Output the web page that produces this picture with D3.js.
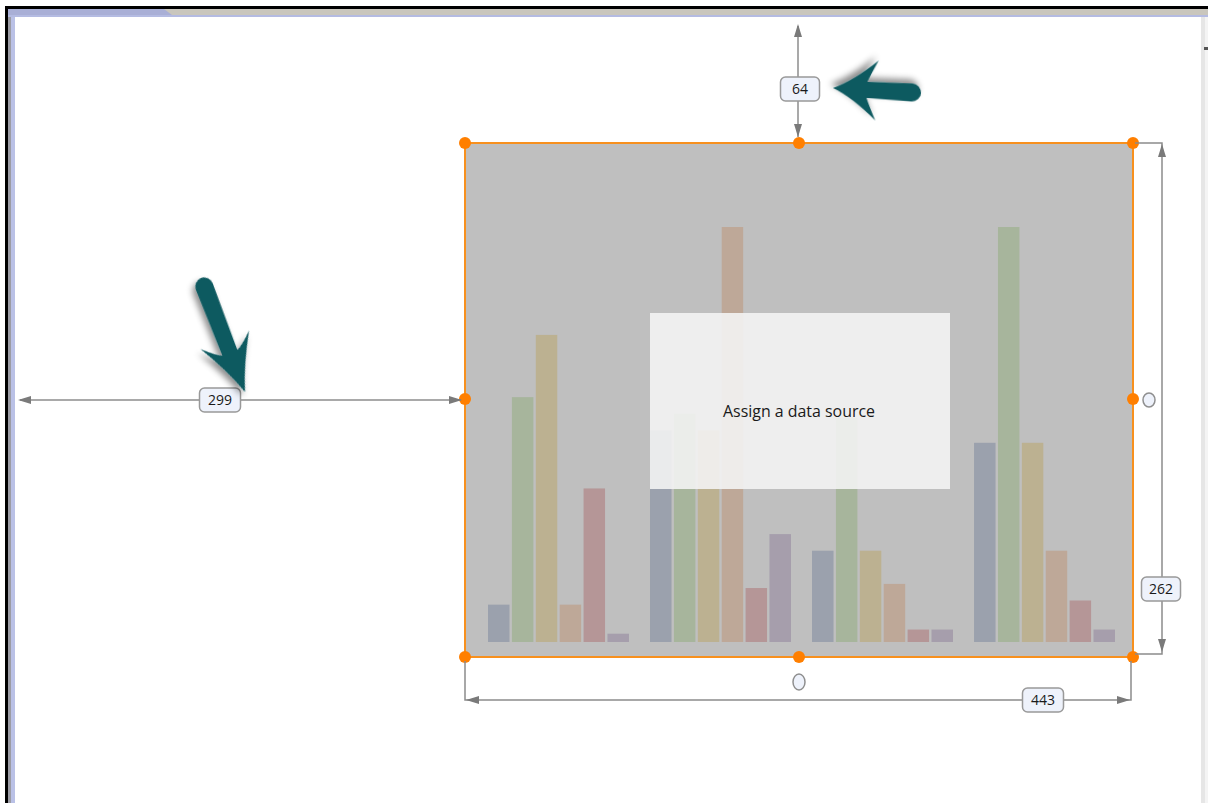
<!DOCTYPE html>
<html>
<head>
<meta charset="utf-8">
<script src="https://cdn.jsdelivr.net/npm/d3@7"></script>
<style>
  html, body { margin: 0; padding: 0; background: #fff; overflow: hidden; }
  svg { display: block; }
</style>
</head>
<body>
<div id="chart"></div>
<script>
// placeholder chart data
const categories = ["A", "B", "C", "D"]
const series = ["s1", "s2", "s3", "s4", "s5", "s6"]
const values = [
  [9, 59, 74, 9, 37, 2],
  [51, 55, 51, 100, 13, 26],
  [22, 54, 22, 14, 3, 3],
  [48, 100, 48, 22, 10, 3]
]
const seriesColors = ["#9ba1ad", "#a7b59c", "#bcb191", "#bea898", "#b59697", "#a69eac"]

// dimension labels shown by the designer
const dimLabels = { top: "64", left: "299", height: "262", width: "443" }
const message = "Assign a data source"

const W = 1208, H = 803
const box = { x0: 465, y0: 143, x1: 1133, y1: 657 }

const svg = d3.select("#chart").append("svg")
  .attr("width", W)
  .attr("height", H)

const defs = svg.append("defs")
const shadow = defs.append("filter").attr("id", "shadow")
  .attr("x", "-30%").attr("y", "-30%").attr("width", "160%").attr("height", "160%")
shadow.append("feDropShadow")
  .attr("dx", 3).attr("dy", 4).attr("stdDeviation", 3)
  .attr("flood-color", "#000").attr("flood-opacity", 0.45)

// ---- window frame ----
const frame = svg.append("g")
frame.append("rect").attr("x", 5).attr("y", 6).attr("width", W - 5).attr("height", 3).attr("fill", "#000")
frame.append("rect").attr("x", 5).attr("y", 6).attr("width", 3).attr("height", H - 6).attr("fill", "#000")
frame.append("rect").attr("x", 8).attr("y", 9).attr("width", 3).attr("height", H - 9).attr("fill", "#9c9ca4")
frame.append("rect").attr("x", 11).attr("y", 9).attr("width", 4).attr("height", H - 9).attr("fill", "#bac1e6")
frame.append("rect").attr("x", 8).attr("y", 9).attr("width", W - 8).attr("height", 6).attr("fill", "#c9c6bd")
frame.append("path")
  .attr("d", "M8,9 L164,9 L172,15 L8,15 Z")
  .attr("fill", "#a9afd6")
frame.append("rect").attr("x", 8).attr("y", 15).attr("width", W - 8).attr("height", 2).attr("fill", "#b4bbe2")
frame.append("rect").attr("x", 1201).attr("y", 17).attr("width", 4).attr("height", H - 17).attr("fill", "#e6e6e6")
frame.append("rect").attr("x", 1205).attr("y", 17).attr("width", 3).attr("height", H - 17).attr("fill", "#f4f4f4")
frame.append("rect").attr("x", 1204).attr("y", 47).attr("width", 4).attr("height", 3).attr("fill", "#555")

// ---- chart placeholder ----
svg.append("rect")
  .attr("x", box.x0).attr("y", box.y0)
  .attr("width", box.x1 - box.x0).attr("height", box.y1 - box.y0)
  .attr("fill", "#bfbfbf")

const x0 = d3.scaleBand().domain(categories).range([488, 1115]).paddingInner(0.13)
const x1 = d3.scaleBand().domain(series).range([0, x0.bandwidth()]).paddingInner(0.1)
const y = d3.scaleLinear().domain([0, 100]).range([642, 227])
const color = d3.scaleOrdinal().domain(series).range(seriesColors)

svg.append("g")
  .selectAll("g")
  .data(values)
  .join("g")
    .attr("transform", (d, i) => `translate(${x0(categories[i])},0)`)
  .selectAll("rect")
  .data(d => d.map((v, j) => ({ key: series[j], value: v })))
  .join("rect")
    .attr("x", d => x1(d.key))
    .attr("y", d => y(d.value))
    .attr("width", x1.bandwidth())
    .attr("height", d => y(0) - y(d.value))
    .attr("fill", d => color(d.key))

// message panel
svg.append("rect")
  .attr("x", 650).attr("y", 313).attr("width", 300).attr("height", 176)
  .attr("fill", "#f3f3f3").attr("fill-opacity", 0.9)
svg.append("text")
  .attr("x", 799).attr("y", 417)
  .attr("text-anchor", "middle")
  .attr("font-family", "Open Sans, sans-serif")
  .attr("font-size", 16)
  .attr("fill", "#1a1a1a")
  .attr("textLength", 152)
  .attr("lengthAdjust", "spacingAndGlyphs")
  .text(message)

// selection border + handles
svg.append("rect")
  .attr("x", box.x0).attr("y", box.y0)
  .attr("width", box.x1 - box.x0).attr("height", box.y1 - box.y0)
  .attr("fill", "none").attr("stroke", "#f7901e").attr("stroke-width", 2)

const midX = (box.x0 + box.x1) / 2, midY = (box.y0 + box.y1) / 2 - 1
const handles = [
  [box.x0, box.y0], [midX, box.y0], [box.x1, box.y0],
  [box.x0, midY], [box.x1, midY],
  [box.x0, box.y1], [midX, box.y1], [box.x1, box.y1]
]
svg.append("g").selectAll("circle")
  .data(handles)
  .join("circle")
    .attr("cx", d => d[0]).attr("cy", d => d[1]).attr("r", 6)
    .attr("fill", "#ff7f00")

// ---- dimension lines ----
const dimColor = "#8c8c8c"
const dims = svg.append("g")

function arrowHead(px, py, angle) {
  // triangle pointing in direction angle (radians), tip at px,py
  const len = 13, hw = 4
  const p = [[0, 0], [-len, -hw], [-len, hw]].map(([a, b]) => [
    px + a * Math.cos(angle) - b * Math.sin(angle),
    py + a * Math.sin(angle) + b * Math.cos(angle)
  ])
  dims.append("path").attr("d", d3.line()(p) + "Z").attr("fill", "#7a7a7a")
}

function line(pts) {
  dims.append("path").attr("d", d3.line()(pts))
    .attr("fill", "none").attr("stroke", dimColor).attr("stroke-width", 1.5)
}

function label(cx, cy, w, text) {
  dims.append("rect")
    .attr("x", cx - w / 2).attr("y", cy - 12).attr("width", w).attr("height", 24)
    .attr("rx", 5)
    .attr("fill", "#eef2fb").attr("stroke", "#999").attr("stroke-width", 1.5)
  dims.append("text")
    .attr("x", cx).attr("y", cy + 5)
    .attr("text-anchor", "middle")
    .attr("font-family", "Open Sans, sans-serif")
    .attr("font-size", 14)
    .attr("fill", "#1a1a1a")
    .text(text)
}

// top offset
line([[798, 26], [798, box.y0 - 6]])
arrowHead(798, 24, -Math.PI / 2)
arrowHead(798, box.y0 - 6, Math.PI / 2)
label(800, 89, 39, dimLabels.top)

// left offset
line([[20, 400], [box.x0 - 4, 400]])
arrowHead(18, 400, Math.PI)
arrowHead(box.x0 - 3, 400, 0)
label(220, 400, 41, dimLabels.left)

// height
line([[box.x1 + 2, box.y0], [1162, box.y0], [1162, 654], [box.x1 + 2, 654]])
arrowHead(1162, box.y0 + 1, -Math.PI / 2)
arrowHead(1162, 652, Math.PI / 2)
label(1161, 589, 39, dimLabels.height)
dims.append("ellipse").attr("cx", 1149).attr("cy", 400).attr("rx", 6).attr("ry", 7)
  .attr("fill", "#eef2fb").attr("stroke", "#8f8f8f").attr("stroke-width", 1.5)

// width
line([[box.x0, box.y1 + 4], [box.x0, 700], [1131, 700], [1131, box.y1 + 4]])
arrowHead(box.x0 + 1, 700, Math.PI)
arrowHead(1130, 700, 0)
label(1043, 700, 41, dimLabels.width)
dims.append("ellipse").attr("cx", 799).attr("cy", 682).attr("rx", 6).attr("ry", 8)
  .attr("fill", "#eef2fb").attr("stroke", "#8f8f8f").attr("stroke-width", 1.5)

// ---- callout arrows ----
function callout(tail, tip, w, headBack, headHalf, notch) {
  const dx = tip[0] - tail[0], dy = tip[1] - tail[1]
  const L = Math.hypot(dx, dy)
  const ang = Math.atan2(dy, dx) * 180 / Math.PI
  const d = [
    `M${w},${-w}`,
    `L${L - notch},${-w * 0.9}`,
    `Q${L - notch - 2},${-w * 1.5} ${L - headBack},${-headHalf}`,
    `Q${L - headBack * 0.45},${-w * 0.9} ${L},0`,
    `Q${L - headBack * 0.45},${w * 0.9} ${L - headBack},${headHalf}`,
    `Q${L - notch - 2},${w * 1.5} ${L - notch},${w * 0.9}`,
    `L${w},${w}`,
    `A${w},${w} 0 0 1 ${w},${-w}`,
    "Z"
  ].join(" ")
  svg.append("path")
    .attr("d", d)
    .attr("transform", `translate(${tail[0]},${tail[1]}) rotate(${ang})`)
    .attr("fill", "#115a60")
    .attr("filter", "url(#shadow)")
}

callout([921, 93], [833, 88], 9, 44, 30, 34)
callout([201, 278], [245, 392], 9, 56, 26, 42)
</script>
</body>
</html>
